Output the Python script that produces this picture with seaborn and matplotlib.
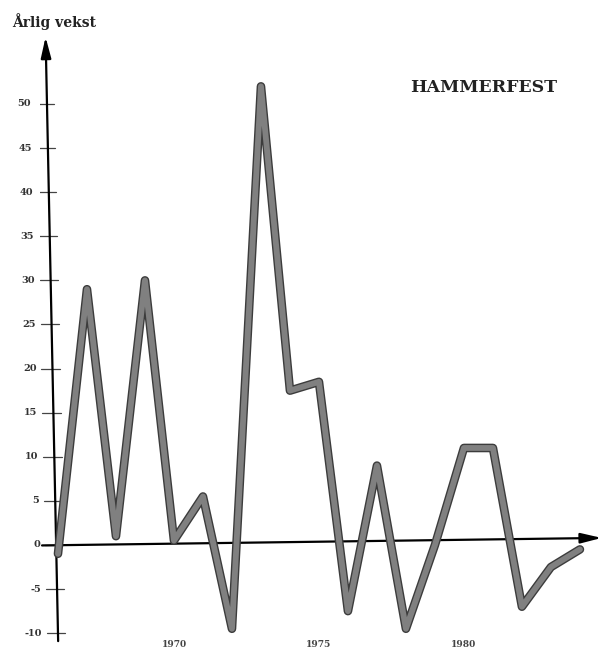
import matplotlib
matplotlib.use("Agg")
import numpy as np
import pandas as pd
import seaborn as sns
import matplotlib.pyplot as plt
import matplotlib.patheffects as pe

# data (annual growth, Hammerfest)
years = list(range(1966, 1985))
growth = [-1, 29, 1, 30, 0.5, 5.5, -9.5, 52, 17.5, 18.5, -7.5, 9, -9.5, 0, 11, 11, -7, -2.5, -0.5]
ytick_vals = [50, 45, 40, 35, 30, 25, 20, 15, 10, 5, 0, -5, -10]
xtick_vals = [1970, 1975, 1980]
ylabel_txt = "Årlig vekst"
place_txt = "HAMMERFEST"

df = pd.DataFrame({"year": years, "growth": growth})

sns.set_style("white")
plt.rcParams["font.family"] = ["DejaVu Serif"]

fig = plt.figure(figsize=(6.04, 6.52), dpi=100)
ax = fig.add_axes([40 / 604, 7 / 652, 564 / 604, 615 / 652])
ax.set_xlim(1965.38, 1984.83)
ax.set_ylim(-11.34, 58.39)
ax.axis("off")


def yaxis_x(v):
    # scanned y axis leans slightly to the left towards the top
    return 1966 - (v + 10) / 60 * 11 / 29


arrow = dict(arrowstyle="-|>,head_width=0.22,head_length=0.9", lw=1.6,
             color="black", mutation_scale=14, shrinkA=0, shrinkB=0)
# y axis
ax.annotate("", xy=(yaxis_x(57.6), 57.6), xytext=(yaxis_x(-10.9), -10.9), arrowprops=arrow)
# x axis
ax.annotate("", xy=(1984.75, 0.8), xytext=(1965.45, -0.05), arrowprops=arrow)

for v in ytick_vals:
    xa = yaxis_x(v)
    ax.plot([xa - 0.38, xa + 0.25], [v, v], color="#444444", lw=0.9)
    ax.text(xa - 0.55, v, str(v), ha="right", va="center", fontsize=7,
            fontweight="bold", color="#333333")

for yr in xtick_vals:
    ax.text(yr, -11.3, str(yr), ha="center", va="center", fontsize=6.5,
            fontweight="bold", color="#444444")

sns.lineplot(data=df, x="year", y="growth", ax=ax, color="#808080", lw=4.2,
             path_effects=[pe.Stroke(linewidth=6.2, foreground="#3c3c3c"), pe.Normal()],
             zorder=5)
ax.set_xlabel("")
ax.set_ylabel("")
ax.axis("off")

fig.text(12 / 604, 1 - 22 / 652, ylabel_txt, ha="left", va="center",
         fontsize=10, fontweight="bold", color="#222222")
fig.text(484 / 604, 1 - 88 / 652, place_txt, ha="center", va="center",
         fontsize=12.5, fontweight="bold", color="#222222")

fig.savefig("out.png", dpi=100)
